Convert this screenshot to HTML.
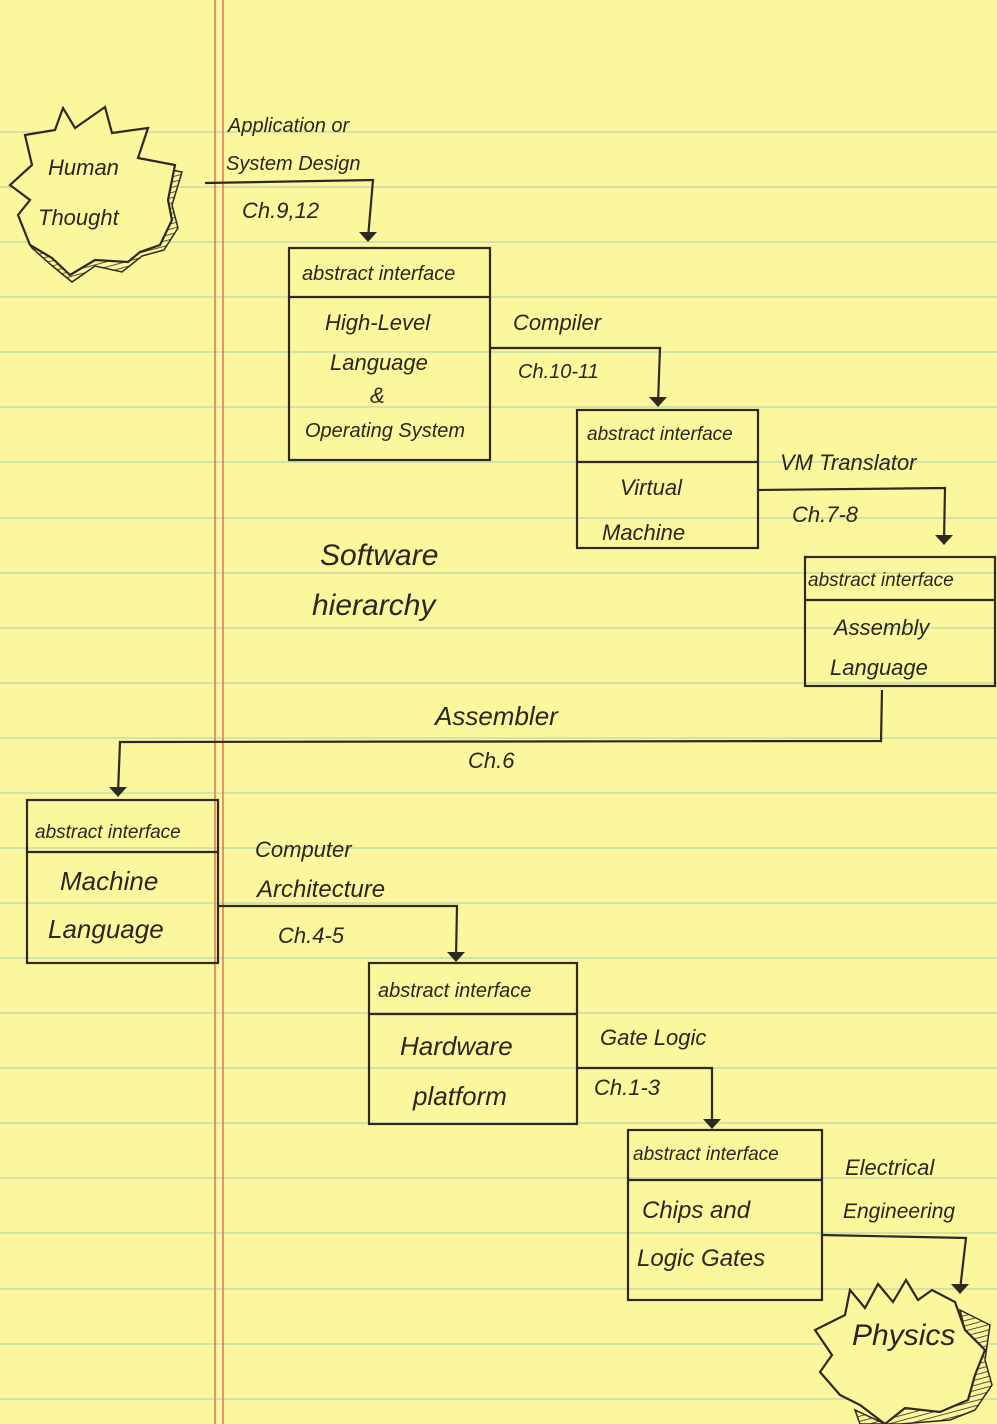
<!DOCTYPE html>
<html><head><meta charset="utf-8"><style>
html,body{margin:0;padding:0;background:#fcf8a0;}
svg{display:block}
text{font-family:"Liberation Sans",sans-serif;fill:#2a2620;font-style:italic}
</style></head><body>
<svg width="997" height="1424" viewBox="0 0 997 1424" xmlns="http://www.w3.org/2000/svg">
<defs><pattern id="h" width="5" height="5" patternUnits="userSpaceOnUse" patternTransform="rotate(75)"><rect width="5" height="5" fill="#fbf79c"/><line x1="0" y1="0" x2="0" y2="5" stroke="#2e2a22" stroke-width="1.6"/></pattern></defs>
<rect width="997" height="1424" fill="#fbf79c"/>
<g stroke="#a9cdb4" stroke-width="1.2" opacity="0.8">
<line x1="0" y1="132" x2="997" y2="132"/><line x1="0" y1="187" x2="997" y2="187"/><line x1="0" y1="242" x2="997" y2="242"/><line x1="0" y1="297" x2="997" y2="297"/><line x1="0" y1="352" x2="997" y2="352"/><line x1="0" y1="407" x2="997" y2="407"/><line x1="0" y1="462" x2="997" y2="462"/><line x1="0" y1="518" x2="997" y2="518"/><line x1="0" y1="573" x2="997" y2="573"/><line x1="0" y1="628" x2="997" y2="628"/><line x1="0" y1="683" x2="997" y2="683"/><line x1="0" y1="738" x2="997" y2="738"/><line x1="0" y1="793" x2="997" y2="793"/><line x1="0" y1="848" x2="997" y2="848"/><line x1="0" y1="903" x2="997" y2="903"/><line x1="0" y1="958" x2="997" y2="958"/><line x1="0" y1="1013" x2="997" y2="1013"/><line x1="0" y1="1068" x2="997" y2="1068"/><line x1="0" y1="1123" x2="997" y2="1123"/><line x1="0" y1="1178" x2="997" y2="1178"/><line x1="0" y1="1233" x2="997" y2="1233"/><line x1="0" y1="1289" x2="997" y2="1289"/><line x1="0" y1="1344" x2="997" y2="1344"/><line x1="0" y1="1399" x2="997" y2="1399"/>
</g>
<line x1="215" y1="0" x2="215" y2="1424" stroke="#d9755a" stroke-width="1.5"/>
<line x1="223" y1="0" x2="223" y2="1424" stroke="#d9755a" stroke-width="1.5"/>
<g fill="none" stroke="#2e2a22" stroke-width="2.2">
<!-- Human thought hatched shadow -->
<path d="M160,168 L182,172 L172,205 L178,228 L164,250 L142,256 L122,272 L95,266 L72,282 L50,264 L32,248 L30,245 L52,258 L70,275 L95,260 L128,262 L140,252 L160,245 L172,220 L168,200 Z" fill="url(#h)" stroke-width="1.5"/>
<path d="M25,135 L55,130 L63,108 L75,128 L105,107 L112,133 L148,128 L138,158 L175,165 L168,200 L172,220 L160,245 L140,252 L128,262 L95,260 L70,275 L52,258 L30,245 L18,215 L30,200 L10,185 L32,165 Z" fill="#fbf79c"/>
<!-- boxes -->
<rect x="289" y="248" width="201" height="212"/><line x1="289" y1="297" x2="490" y2="297"/>
<rect x="577" y="410" width="181" height="138"/><line x1="577" y1="462" x2="758" y2="462"/>
<rect x="805" y="557" width="190" height="129"/><line x1="805" y1="600" x2="995" y2="600"/>
<rect x="27" y="800" width="191" height="163"/><line x1="27" y1="852" x2="218" y2="852"/>
<rect x="369" y="963" width="208" height="161"/><line x1="369" y1="1014" x2="577" y2="1014"/>
<rect x="628" y="1130" width="194" height="170"/><line x1="628" y1="1180" x2="822" y2="1180"/>
<!-- connectors -->
<polyline points="205,183 373,180 368,238"/>
<polyline points="490,348 660,348 658,403"/>
<polyline points="758,490 945,488 944,541"/>
<polyline points="882,690 881,741 120,742 118,793"/>
<polyline points="218,906 457,906 456,958"/>
<polyline points="577,1068 712,1068 712,1125"/>
<polyline points="822,1235 966,1238 960,1290"/>
<!-- physics hatched shadow -->
<path d="M960,1310 L990,1325 L985,1360 L992,1385 L975,1410 L950,1420 L900,1424 L860,1424 L855,1410 L885,1424 L905,1408 L940,1412 L968,1400 L975,1375 L985,1350 L965,1330 Z" fill="url(#h)" stroke-width="1.5"/>
<path d="M850,1290 L865,1308 L878,1284 L893,1302 L906,1280 L918,1300 L932,1290 L955,1302 L965,1330 L985,1350 L975,1375 L968,1400 L940,1412 L905,1408 L885,1424 L860,1405 L840,1395 L820,1372 L832,1355 L815,1330 L845,1315 Z" fill="#fbf79c"/>
</g>
<g fill="#2e2a22">
<path d="M359,232 L377,232 L368,242 Z"/><path d="M649,397 L667,397 L658,407 Z"/><path d="M935,535 L953,535 L944,545 Z"/>
<path d="M109,787 L127,787 L118,797 Z"/><path d="M447,952 L465,952 L456,962 Z"/><path d="M703,1119 L721,1119 L712,1129 Z"/><path d="M951,1284 L969,1284 L960,1294 Z"/>
</g>
<g font-size="22">
<text x="48" y="175">Human</text><text x="38" y="225">Thought</text>
<text x="228" y="132" font-size="20">Application or</text>
<text x="226" y="170" font-size="20">System Design</text>
<text x="242" y="218">Ch.9,12</text>
<text x="302" y="280" font-size="20">abstract interface</text>
<text x="325" y="330">High-Level</text><text x="330" y="370">Language</text><text x="370" y="403">&amp;</text><text x="305" y="437" font-size="20">Operating System</text>
<text x="513" y="330">Compiler</text><text x="518" y="378" font-size="20">Ch.10-11</text>
<text x="587" y="440" font-size="19">abstract interface</text>
<text x="620" y="495">Virtual</text><text x="602" y="540">Machine</text>
<text x="780" y="470">VM Translator</text><text x="792" y="522">Ch.7-8</text>
<text x="808" y="586" font-size="19">abstract interface</text>
<text x="834" y="635">Assembly</text><text x="830" y="675">Language</text>
<text x="320" y="565" font-size="30">Software</text><text x="312" y="615" font-size="30">hierarchy</text>
<text x="435" y="725" font-size="26">Assembler</text><text x="468" y="768">Ch.6</text>
<text x="35" y="838" font-size="19">abstract interface</text>
<text x="60" y="890" font-size="26">Machine</text><text x="48" y="938" font-size="26">Language</text>
<text x="255" y="857">Computer</text><text x="257" y="897" font-size="24">Architecture</text><text x="278" y="943">Ch.4-5</text>
<text x="378" y="997" font-size="20">abstract interface</text>
<text x="400" y="1055" font-size="26">Hardware</text><text x="413" y="1105" font-size="26">platform</text>
<text x="600" y="1045">Gate Logic</text><text x="594" y="1095">Ch.1-3</text>
<text x="633" y="1160" font-size="19">abstract interface</text>
<text x="642" y="1218" font-size="24">Chips and</text><text x="637" y="1266" font-size="24">Logic Gates</text>
<text x="845" y="1175">Electrical</text><text x="843" y="1218" font-size="21">Engineering</text>
<text x="852" y="1345" font-size="30">Physics</text>
</g>
</svg>
</body></html>
